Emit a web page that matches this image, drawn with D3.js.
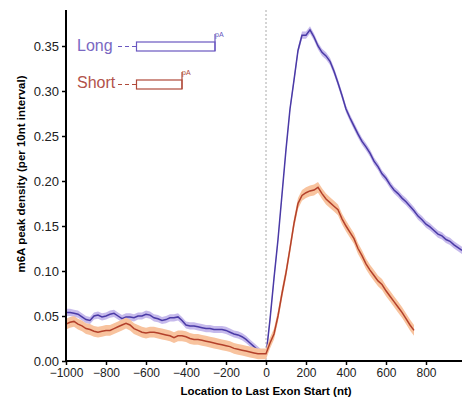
<!DOCTYPE html>
<html><head><meta charset="utf-8">
<script src="https://cdn.jsdelivr.net/npm/d3@7"></script>
<style>body{margin:0;background:#fff}svg{display:block}text{font-family:Arial,"Liberation Sans",sans-serif}</style>
</head><body><svg id="c" width="462" height="402"></svg>
<script>
const xTicks = [-1000,-800,-600,-400,-200,0,200,400,600,800];
const yTicks = [0,0.05,0.10,0.15,0.20,0.25,0.30,0.35];
const longX = d3.range(-1000, 981, 20);
const longY = [0.054,0.054,0.053,0.052,0.049,0.046,0.045,0.050,0.051,0.049,
0.050,0.052,0.053,0.050,0.047,0.049,0.049,0.048,0.050,0.050,
0.052,0.051,0.048,0.047,0.045,0.046,0.048,0.048,0.049,0.045,
0.040,0.039,0.039,0.038,0.037,0.036,0.036,0.035,0.035,0.035,
0.034,0.032,0.030,0.029,0.027,0.024,0.020,0.016,0.012,0.008,
0.006,0.046,0.092,0.135,0.185,0.235,0.280,0.312,0.345,0.362,
0.362,0.368,0.360,0.350,0.343,0.339,0.333,0.322,0.309,0.295,
0.280,0.270,0.261,0.252,0.244,0.238,0.231,0.222,0.216,0.208,
0.203,0.196,0.190,0.186,0.181,0.177,0.172,0.167,0.161,0.157,
0.152,0.149,0.145,0.141,0.139,0.135,0.133,0.129,0.126,0.123];
const shortX = d3.range(-1000, 741, 20);
const shortY = [0.041,0.043,0.044,0.041,0.039,0.036,0.035,0.033,0.032,0.033,
0.034,0.034,0.036,0.038,0.040,0.042,0.040,0.036,0.034,0.032,
0.031,0.032,0.032,0.031,0.030,0.029,0.028,0.026,0.028,0.028,
0.027,0.025,0.024,0.024,0.023,0.022,0.021,0.020,0.019,0.018,
0.017,0.016,0.014,0.013,0.012,0.011,0.010,0.009,0.008,0.008,
0.008,0.020,0.030,0.050,0.075,0.098,0.125,0.153,0.175,0.184,
0.187,0.189,0.190,0.193,0.186,0.180,0.176,0.172,0.168,0.158,
0.150,0.143,0.136,0.125,0.117,0.108,0.101,0.095,0.089,0.085,
0.078,0.072,0.066,0.060,0.054,0.047,0.040,0.034];
const longErr = 0.004, shortErr = 0.006;

const svg = d3.select("#c");
const x = d3.scaleLinear().domain([-1000, 980]).range([66, 462]);
const y = d3.scaleLinear().domain([0, 0.39]).range([361, 10]);

// dashed zero line
svg.append("line").attr("x1", x(0)).attr("x2", x(0)).attr("y1", y(0.39)).attr("y2", y(0))
  .attr("stroke", "#aaa").attr("stroke-width", 1).attr("stroke-dasharray", "2,2");

function series(xs, ys, err, band, col) {
  const d = xs.map((v, i) => [v, ys[i]]);
  svg.append("path").datum(d)
    .attr("d", d3.area().x(p => x(p[0])).y0(p => y(Math.max(0, p[1] - err))).y1(p => y(p[1] + err)))
    .attr("fill", band);
  svg.append("path").datum(d)
    .attr("d", d3.line().x(p => x(p[0])).y(p => y(p[1])))
    .attr("fill", "none").attr("stroke", col).attr("stroke-width", 1.5);
}
series(longX, longY, longErr, "#c6baec", "#4a3aa6");
series(shortX, shortY, shortErr, "#f8c39e", "#b3402a");

// axes
const gx = svg.append("g").attr("transform", `translate(0,${y(0)})`)
  .call(d3.axisBottom(x).tickValues(xTicks).tickSize(4).tickPadding(3).tickFormat(d3.format("d")));
const gy = svg.append("g").attr("transform", `translate(${x(-1000)},0)`)
  .call(d3.axisLeft(y).tickValues(yTicks).tickSize(4).tickPadding(3).tickFormat(d3.format(".2f")));
[gx, gy].forEach(g => {
  g.select(".domain").attr("stroke", "#000").attr("stroke-width", 2);
  g.selectAll(".tick line").attr("stroke", "#000").attr("stroke-width", 1.5);
  g.selectAll(".tick text").attr("fill", "#222").style("font-size", "12px");
});
gy.selectAll(".tick text").style("font-size", "13px");
gx.select(".domain").attr("d", `M${x(-1000)},0H462`);
gy.select(".domain").attr("d", `M0,${y(0.39)}V${y(0)}`);

// titles
svg.append("text").attr("x", 266).attr("y", 395).attr("text-anchor", "middle")
  .style("font-size", "11.5px").style("font-weight", "bold").text("Location to Last Exon Start (nt)");
svg.append("text").attr("transform", "translate(25,174) rotate(-90)").attr("text-anchor", "middle")
  .style("font-size", "11.5px").style("font-weight", "bold").text("m6A peak density (per 10nt interval)");

// legend
const legend = [
  {name: "Long", tc: "#7a68c2", bc: "#6a58c0", ty: 51, by: 42, bx2: 215},
  {name: "Short", tc: "#b2524a", bc: "#b04a3a", ty: 88, by: 80, bx2: 182}
];
legend.forEach(l => {
  svg.append("text").attr("x", 77).attr("y", l.ty).attr("fill", l.tc).style("font-size", "16px").text(l.name);
  const my = l.by + 4.5;
  svg.append("line").attr("x1", 118).attr("x2", 136).attr("y1", my).attr("y2", my)
    .attr("stroke", l.bc).attr("stroke-width", 1.2).attr("stroke-dasharray", "4,3");
  svg.append("rect").attr("x", 136.5).attr("y", l.by).attr("width", l.bx2 - 136.5).attr("height", 9)
    .attr("fill", "none").attr("stroke", l.bc).attr("stroke-width", 1.2);
  svg.append("line").attr("x1", l.bx2).attr("x2", l.bx2).attr("y1", l.by - 8).attr("y2", l.by + 9)
    .attr("stroke", l.bc).attr("stroke-width", 1.2);
  svg.append("text").attr("x", l.bx2).attr("y", l.by - 5).attr("fill", l.bc).style("font-size", "7px").text("pA");
});
</script></body></html>
